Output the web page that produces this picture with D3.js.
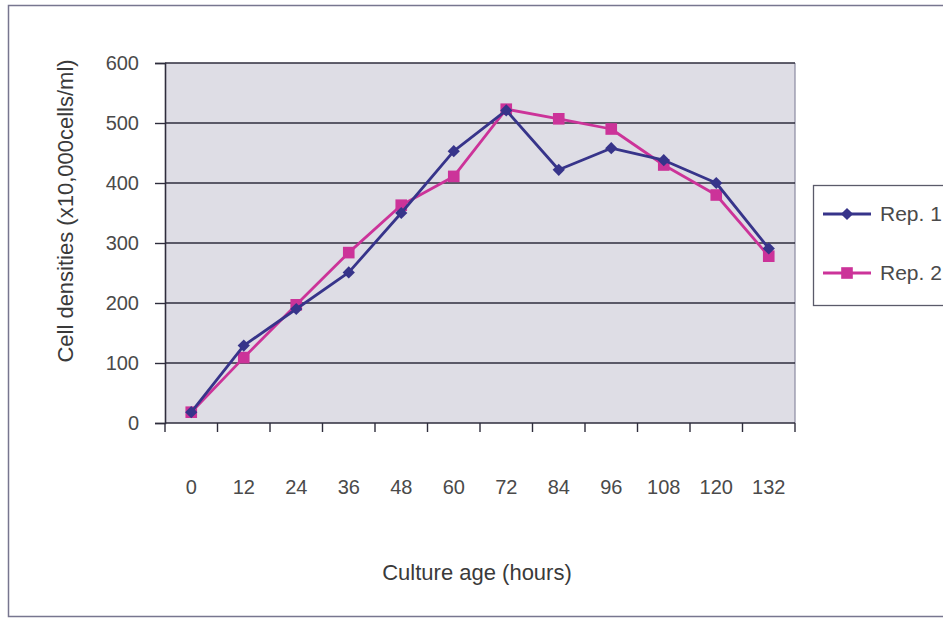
<!DOCTYPE html>
<html>
<head>
<meta charset="utf-8">
<script src="https://cdn.jsdelivr.net/npm/d3@7"></script>
<style>
  html, body { margin: 0; padding: 0; background: #fff; }
  svg { display: block; font-family: "Liberation Sans", Arial, sans-serif; }
</style>
</head>
<body>
<svg id="chart" width="943" height="621"></svg>
<script>
// Culture age (hours) at each sampling point
const hours = [0, 12, 24, 36, 48, 60, 72, 84, 96, 108, 120, 132];
// Cell densities (x10,000 cells/ml) for the two replicates
const rep1 = [18, 129, 190, 251, 350, 453, 521, 422, 458, 438, 400, 291];
const rep2 = [18, 109, 197, 284, 363, 411, 523, 507, 490, 430, 380, 278];
const seriesNames = ["Rep. 1", "Rep. 2"];
const yTicks = [0, 100, 200, 300, 400, 500, 600];

const svg = d3.select("#chart");
const plot = { left: 165, right: 795, top: 63, bottom: 423 };
const navy = "#37348a";
const magenta = "#cc3399";
const textCol = "#4a4a4a";

// outer frame of the chart
svg.append("rect")
  .attr("x", 8.5).attr("y", 5.5)
  .attr("width", 960).attr("height", 611)
  .attr("fill", "#fff").attr("stroke", "#77768f").attr("stroke-width", 1.5);

const x = d3.scaleBand().domain(hours).range([plot.left, plot.right]).paddingInner(0).paddingOuter(0);
const y = d3.scaleLinear().domain([0, 600]).range([plot.bottom, plot.top]);

// plot area background
svg.append("rect")
  .attr("x", plot.left).attr("y", plot.top)
  .attr("width", plot.right - plot.left).attr("height", plot.bottom - plot.top)
  .attr("fill", "#dedde5");

// right edge of plot area
svg.append("line")
  .attr("x1", plot.right).attr("x2", plot.right)
  .attr("y1", plot.top).attr("y2", plot.bottom)
  .attr("stroke", "#8a8aa0").attr("stroke-width", 1.2);

// horizontal gridlines
svg.append("g").selectAll("line")
  .data(yTicks.filter(d => d > 0))
  .join("line")
  .attr("x1", plot.left).attr("x2", plot.right)
  .attr("y1", d => y(d)).attr("y2", d => y(d))
  .attr("stroke", "#2e2d3c").attr("stroke-width", 1.4);

// y axis
const yAxis = svg.append("g")
  .attr("transform", `translate(${plot.left},0)`)
  .call(d3.axisLeft(y).tickValues(yTicks).tickSize(10).tickPadding(16));
yAxis.select(".domain").attr("stroke", "#2e2d3c").attr("stroke-width", 1.6);
yAxis.selectAll(".tick line").attr("stroke", "#2e2d3c").attr("stroke-width", 1.4);
yAxis.selectAll(".tick text")
  .attr("fill", textCol).style("font-size", "20px")
  .style("font-family", "'Liberation Sans', Arial, sans-serif");

// x axis: ticks sit on band boundaries, labels centred in bands
const xTickPos = hours.map(h => x(h)).concat([plot.right]);
const xAxis = svg.append("g");
xAxis.append("line")
  .attr("x1", plot.left).attr("x2", plot.right)
  .attr("y1", plot.bottom).attr("y2", plot.bottom)
  .attr("stroke", "#2e2d3c").attr("stroke-width", 1.6);
xAxis.selectAll("line.tk")
  .data(xTickPos)
  .join("line").attr("class", "tk")
  .attr("x1", d => d).attr("x2", d => d)
  .attr("y1", plot.bottom).attr("y2", plot.bottom + 9)
  .attr("stroke", "#2e2d3c").attr("stroke-width", 1.4);
xAxis.selectAll("text")
  .data(hours)
  .join("text")
  .attr("x", d => x(d) + x.bandwidth() / 2)
  .attr("y", 494)
  .attr("text-anchor", "middle")
  .attr("fill", textCol)
  .style("font-size", "20px")
  .text(d => d);

// axis titles
svg.append("text")
  .attr("x", 477).attr("y", 580)
  .attr("text-anchor", "middle")
  .attr("fill", "#3a3a3a")
  .style("font-size", "22px")
  .text("Culture age (hours)");

svg.append("text")
  .attr("transform", "translate(73,211) rotate(-90)")
  .attr("text-anchor", "middle")
  .attr("fill", "#3a3a3a")
  .style("font-size", "22px")
  .text("Cell densities (x10,000cells/ml)");

// series
const cx = h => x(h) + x.bandwidth() / 2;
const line = d3.line().x(d => cx(d.h)).y(d => y(d.v));
const series = [
  { name: seriesNames[0], values: rep1, color: navy, shape: d3.symbolSquare, size: 75, rot: 45 },
  { name: seriesNames[1], values: rep2, color: magenta, shape: d3.symbolSquare, size: 135, rot: 0 }
];

// draw Rep. 2 first so Rep. 1 stays on top where they cross
[series[1], series[0]].forEach(s => {
  const pts = hours.map((h, i) => ({ h, v: s.values[i] }));
  svg.append("path")
    .datum(pts)
    .attr("d", line)
    .attr("fill", "none")
    .attr("stroke", s.color)
    .attr("stroke-width", 2.8)
    .attr("stroke-linejoin", "round");
  svg.append("g").selectAll("path")
    .data(pts)
    .join("path")
    .attr("transform", d => `translate(${cx(d.h)},${y(d.v)}) rotate(${s.rot})`)
    .attr("d", d3.symbol().type(s.shape).size(s.size))
    .attr("fill", s.color);
});

// legend
const legend = svg.append("g");
legend.append("rect")
  .attr("x", 813.5).attr("y", 185.5)
  .attr("width", 160).attr("height", 120)
  .attr("fill", "#fff").attr("stroke", "#5a5a6a").attr("stroke-width", 1.3);
series.forEach((s, i) => {
  const ly = 214 + i * 59;
  legend.append("line")
    .attr("x1", 823).attr("x2", 871)
    .attr("y1", ly).attr("y2", ly)
    .attr("stroke", s.color).attr("stroke-width", 2.8);
  legend.append("path")
    .attr("transform", `translate(847,${ly}) rotate(${s.rot})`)
    .attr("d", d3.symbol().type(s.shape).size(s.size))
    .attr("fill", s.color);
  legend.append("text")
    .attr("x", 880).attr("y", ly + 7)
    .attr("fill", textCol)
    .style("font-size", "21px")
    .text(s.name);
});
</script>
</body>
</html>
